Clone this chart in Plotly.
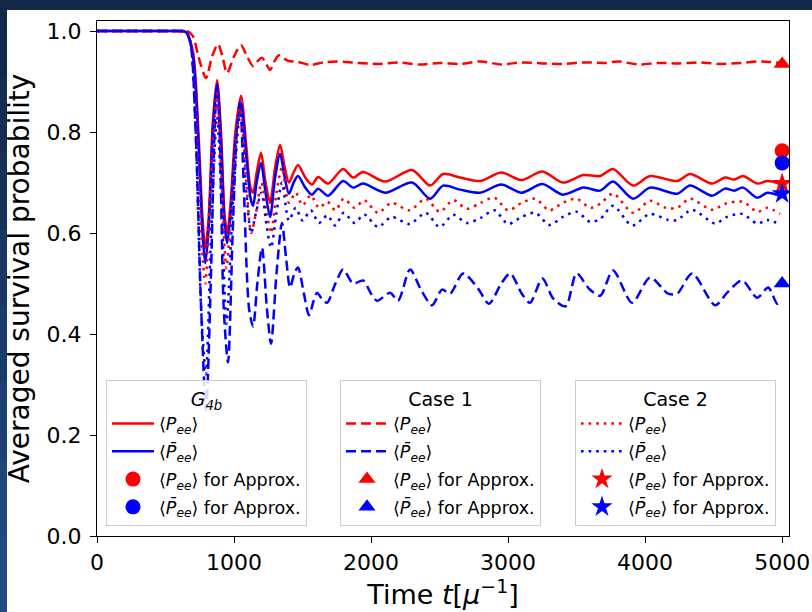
import plotly.graph_objects as go

# ---------------- data ----------------
# G4b, <P_ee> (red solid)
t_g4b_p = [0, 200, 400, 550, 600, 650, 700, 740, 770, 790, 815, 845, 876, 905, 930, 950, 975, 1010, 1051, 1090, 1120,
           1139, 1165, 1197, 1230, 1263, 1300, 1336, 1370, 1401, 1435, 1467, 1520, 1569, 1613, 1686, 1796, 1869, 1942,
           2102, 2299, 2431, 2526, 2650, 2796, 2950, 3100, 3250, 3400, 3550, 3672, 3766, 3912, 4036, 4234, 4328, 4489,
           4584, 4650, 4715, 4818, 4891, 4985]
y_g4b_p = [1.0, 1.0, 1.0, 1.0, 1.0, 0.998, 0.96, 0.80, 0.63, 0.57, 0.63, 0.82, 0.903, 0.80, 0.64, 0.60, 0.66, 0.80,
           0.872, 0.77, 0.69, 0.68, 0.72, 0.759, 0.70, 0.66, 0.73, 0.775, 0.73, 0.700, 0.72, 0.735, 0.71, 0.696, 0.711,
           0.698, 0.727, 0.710, 0.721, 0.702, 0.725, 0.694, 0.717, 0.710, 0.703, 0.720, 0.705, 0.722, 0.700, 0.715,
           0.713, 0.727, 0.694, 0.713, 0.703, 0.717, 0.698, 0.710, 0.706, 0.713, 0.698, 0.703, 0.698]

# G4b, <Pbar_ee> (blue solid)
t_g4b_pb = [0, 200, 400, 550, 600, 650, 700, 740, 770, 790, 815, 845, 876, 905, 930, 950, 975, 1010, 1051, 1090, 1120,
            1139, 1165, 1197, 1230, 1263, 1300, 1336, 1370, 1401, 1435, 1467, 1520, 1569, 1613, 1686, 1796, 1869, 1942,
            2102, 2299, 2431, 2526, 2650, 2796, 2950, 3100, 3250, 3400, 3550, 3672, 3766, 3912, 4036, 4234, 4328, 4489,
            4584, 4650, 4715, 4818, 4891, 4985]
y_g4b_pb = [1.0, 1.0, 1.0, 1.0, 1.0, 0.998, 0.95, 0.78, 0.60, 0.54, 0.61, 0.80, 0.895, 0.78, 0.62, 0.58, 0.64, 0.78,
            0.856, 0.75, 0.67, 0.654, 0.70, 0.739, 0.68, 0.632, 0.71, 0.757, 0.71, 0.678, 0.70, 0.713, 0.69, 0.676,
            0.688, 0.674, 0.703, 0.690, 0.698, 0.680, 0.700, 0.668, 0.694, 0.686, 0.680, 0.696, 0.680, 0.697, 0.676,
            0.690, 0.684, 0.702, 0.668, 0.690, 0.678, 0.694, 0.674, 0.688, 0.684, 0.690, 0.670, 0.680, 0.674]

# Case 1, <P_ee> (red dashed)
t_c1_p = [0, 200, 400, 550, 620, 660, 700, 740, 796, 840, 883, 915, 949, 1000, 1051, 1095, 1139, 1170, 1204, 1235,
          1263, 1295, 1328, 1394, 1467, 1555, 1650, 1750, 1900, 2050, 2200, 2350, 2500, 2650, 2800, 2950, 3100, 3250,
          3400, 3550, 3700, 3800, 3950, 4100, 4250, 4400, 4550, 4700, 4850, 4985]
y_c1_p = [1.0, 1.0, 1.0, 1.0, 1.0, 1.0, 0.99, 0.95, 0.907, 0.95, 0.974, 0.95, 0.917, 0.95, 0.972, 0.95, 0.931, 0.94,
          0.947, 0.935, 0.923, 0.94, 0.952, 0.941, 0.939, 0.933, 0.938, 0.940, 0.937, 0.935, 0.938, 0.934, 0.937,
          0.935, 0.940, 0.934, 0.938, 0.936, 0.935, 0.938, 0.937, 0.940, 0.934, 0.937, 0.936, 0.938, 0.935, 0.937,
          0.940, 0.937]

# Case 1, <Pbar_ee> (blue dashed)
t_c1_pb = [0, 200, 400, 550, 610, 645, 680, 720, 760, 796, 830, 860, 876, 895, 925, 956, 990, 1020, 1044, 1070, 1110,
           1139, 1170, 1204, 1240, 1270, 1310, 1350, 1380, 1409, 1440, 1467, 1510, 1547, 1580, 1606, 1640, 1679, 1740,
           1796, 1869, 1942, 2000, 2044, 2139, 2197, 2285, 2360, 2445, 2518, 2577, 2672, 2781, 2860, 2950, 3015, 3100,
           3160, 3250, 3330, 3420, 3500, 3590, 3672, 3766, 3905, 4036, 4168, 4234, 4343, 4511, 4599, 4708, 4818, 4898,
           4964, 4990]
y_c1_pb = [1.0, 1.0, 1.0, 1.0, 1.0, 1.0, 0.98, 0.80, 0.45, 0.25, 0.50, 0.82, 0.89, 0.80, 0.45, 0.344, 0.60, 0.80, 0.86,
           0.70, 0.45, 0.415, 0.50, 0.571, 0.45, 0.381, 0.52, 0.62, 0.55, 0.492, 0.52, 0.532, 0.48, 0.437, 0.465,
           0.482, 0.47, 0.462, 0.50, 0.528, 0.500, 0.506, 0.48, 0.466, 0.482, 0.466, 0.528, 0.49, 0.457, 0.488, 0.480,
           0.520, 0.490, 0.46, 0.50, 0.52, 0.48, 0.462, 0.51, 0.47, 0.455, 0.52, 0.49, 0.476, 0.526, 0.462, 0.512,
           0.48, 0.48, 0.520, 0.457, 0.482, 0.506, 0.472, 0.492, 0.460, 0.464]

# Case 2, <P_ee> (red dotted)
t_c2_p = [0, 200, 400, 550, 610, 645, 680, 720, 760, 790, 825, 876, 910, 945, 990, 1044, 1090, 1125, 1160, 1200, 1240,
          1270, 1310, 1350, 1400, 1450, 1500, 1560, 1620, 1680, 1740, 1800, 1880, 1950, 2050, 2150, 2280, 2400, 2500,
          2600, 2700, 2800, 2900, 3000, 3100, 3200, 3300, 3400, 3500, 3600, 3672, 3766, 3912, 4036, 4150, 4234, 4328,
          4489, 4584, 4715, 4818, 4891, 4985]
y_c2_p = [1.0, 1.0, 1.0, 1.0, 1.0, 1.0, 0.98, 0.85, 0.60, 0.50, 0.68, 0.877, 0.70, 0.53, 0.70, 0.848, 0.70, 0.60, 0.64,
          0.70, 0.64, 0.60, 0.68, 0.73, 0.66, 0.68, 0.655, 0.675, 0.650, 0.662, 0.645, 0.668, 0.650, 0.665, 0.640,
          0.660, 0.645, 0.668, 0.642, 0.665, 0.648, 0.660, 0.670, 0.645, 0.660, 0.668, 0.645, 0.660, 0.668, 0.650,
          0.658, 0.678, 0.640, 0.664, 0.650, 0.650, 0.668, 0.646, 0.658, 0.662, 0.642, 0.650, 0.638]

# Case 2, <Pbar_ee> (blue dotted)
t_c2_pb = [0, 200, 400, 550, 610, 645, 680, 720, 760, 795, 830, 876, 910, 945, 990, 1044, 1090, 1125, 1160, 1200, 1240,
           1270, 1310, 1350, 1400, 1450, 1500, 1560, 1620, 1680, 1740, 1800, 1880, 1950, 2050, 2150, 2280, 2400, 2500,
           2600, 2700, 2800, 2900, 3000, 3100, 3200, 3300, 3400, 3500, 3600, 3672, 3766, 3905, 4036, 4168, 4234, 4343,
           4511, 4599, 4708, 4818, 4891, 4985]
y_c2_pb = [1.0, 1.0, 1.0, 1.0, 1.0, 1.0, 0.98, 0.80, 0.45, 0.32, 0.58, 0.83, 0.65, 0.42, 0.65, 0.836, 0.68, 0.60, 0.64,
           0.68, 0.61, 0.571, 0.64, 0.70, 0.625, 0.65, 0.625, 0.645, 0.620, 0.635, 0.615, 0.640, 0.620, 0.637, 0.612,
           0.632, 0.618, 0.640, 0.612, 0.636, 0.620, 0.630, 0.645, 0.618, 0.632, 0.640, 0.616, 0.632, 0.642, 0.622,
           0.628, 0.654, 0.615, 0.638, 0.626, 0.626, 0.646, 0.619, 0.632, 0.638, 0.619, 0.626, 0.617]

# Approximation markers at t = 5000
t_approx = 5000
approx_g4b = [0.763, 0.739]    # P, Pbar (circles)
approx_case1 = [0.935, 0.500]  # P, Pbar (triangles)
approx_case2 = [0.698, 0.678]  # P, Pbar (stars)

x_ticks = [0, 1000, 2000, 3000, 4000, 5000]
y_ticks = [0.0, 0.2, 0.4, 0.6, 0.8, 1.0]

# ---------------- styling ----------------
RED = "#ff0000"
BLUE = "#0000ff"
FONT = "DejaVu Sans"
LW = 2.5
DASH = "10px,5px"
DOT = "2.6px,5px"

P_LBL = "⟨<i>P</i><sub><i>ee</i></sub>⟩"
PB_LBL = "⟨<i>P\u0304</i><sub><i>ee</i></sub>⟩"

fig = go.Figure()

def add_line(t, y, color, dash, name, legend, gid):
    fig.add_trace(go.Scatter(
        x=t, y=y, mode="lines", name=name, legend=legend, legendgroup=gid,
        line=dict(color=color, width=LW, dash=dash, shape="spline", smoothing=0.8),
    ))

def add_marker(y, color, symbol, name, legend, gid, size=15):
    fig.add_trace(go.Scatter(
        x=[t_approx], y=[y], mode="markers", name=name, legend=legend, legendgroup=gid,
        marker=dict(color=color, symbol=symbol, size=size, line=dict(width=0)),
    ))

add_line(t_g4b_p, y_g4b_p, RED, "solid", P_LBL, "legend", "a1")
add_line(t_g4b_pb, y_g4b_pb, BLUE, "solid", PB_LBL, "legend", "a2")
add_line(t_c1_p, y_c1_p, RED, DASH, P_LBL, "legend2", "b1")
add_line(t_c1_pb, y_c1_pb, BLUE, DASH, PB_LBL, "legend2", "b2")
add_line(t_c2_p, y_c2_p, RED, DOT, P_LBL, "legend3", "c1")
add_line(t_c2_pb, y_c2_pb, BLUE, DOT, PB_LBL, "legend3", "c2")

add_marker(approx_g4b[0], RED, "circle", P_LBL + " for Approx.", "legend", "a3")
add_marker(approx_g4b[1], BLUE, "circle", PB_LBL + " for Approx.", "legend", "a4")
add_marker(approx_case1[0], RED, "triangle-up", P_LBL + " for Approx.", "legend2", "b3")
add_marker(approx_case1[1], BLUE, "triangle-up", PB_LBL + " for Approx.", "legend2", "b4")
add_marker(approx_case2[0], RED, "star", P_LBL + " for Approx.", "legend3", "c3", size=16)
add_marker(approx_case2[1], BLUE, "star", PB_LBL + " for Approx.", "legend3", "c4", size=16)

W, H = 812, 612
ML, MR, MT, MB = 97, 23, 21, 76
pw, ph = W - ML - MR, H - MT - MB

def px2x(px):
    return (px - ML) / pw

def py2y(py):
    return (H - MB - py) / ph

def legend_cfg(left_px, title):
    return dict(
        x=px2x(left_px), y=py2y(526), xanchor="left", yanchor="bottom",
        title=dict(text=title, side="top center", font=dict(family=FONT, size=19, color="black")),
        bgcolor="rgba(255,255,255,0.85)", bordercolor="#cccccc", borderwidth=1,
        font=dict(family=FONT, size=17.5, color="black"),
        tracegroupgap=2, itemwidth=42, traceorder="grouped",
    )

# dark slide frame around the picture
shapes = [dict(type="rect", xref="paper", yref="paper", x0=px2x(0), x1=px2x(W), y0=py2y(10), y1=py2y(0),
               fillcolor="#13294a", line=dict(width=0), layer="above")]
strip_cols = ["#13294a", "#142d51", "#163259", "#183762", "#1a3c6a", "#1c4173", "#1e467b", "#204a81"]
n = len(strip_cols)
for i, c in enumerate(strip_cols):
    y_top = i * H / n
    y_bot = (i + 1) * H / n
    shapes.append(dict(type="rect", xref="paper", yref="paper", x0=px2x(0), x1=px2x(7),
                       y0=py2y(y_bot + 0.5), y1=py2y(y_top), fillcolor=c, line=dict(width=0), layer="above"))

fig.update_layout(
    width=W, height=H,
    margin=dict(l=ML, r=MR, t=MT, b=MB, autoexpand=False),
    paper_bgcolor="white", plot_bgcolor="white",
    font=dict(family=FONT, color="black"),
    showlegend=True,
    legend=legend_cfg(106, "<i>G</i><sub><i>4b</i></sub>"),
    legend2=legend_cfg(340, "Case 1"),
    legend3=legend_cfg(575, "Case 2"),
    shapes=shapes,
    xaxis=dict(
        range=[0, 5050], tickvals=x_ticks, ticktext=[str(v) for v in x_ticks],
        showline=True, linecolor="black", linewidth=1.3, mirror=True,
        ticks="outside", ticklen=6, tickwidth=1.3, tickcolor="black",
        showgrid=False, zeroline=False,
        tickfont=dict(family=FONT, size=22, color="black"),
        title=dict(text="Time <i>t</i>[<i>μ</i><sup>−1</sup>]", standoff=3,
                   font=dict(family=FONT, size=27, color="black")),
    ),
    yaxis=dict(
        range=[0, 1.02], tickvals=y_ticks, ticktext=[f"{v:.1f}" for v in y_ticks],
        showline=True, linecolor="black", linewidth=1.3, mirror=True,
        ticks="outside", ticklen=6, tickwidth=1.3, tickcolor="black",
        showgrid=False, zeroline=False, ticklabelstandoff=4,
        tickfont=dict(family=FONT, size=22, color="black"),
        title=dict(text="Averaged survival probability", standoff=8,
                   font=dict(family=FONT, size=28, color="black")),
    ),
)

fig.write_html("out.html")
